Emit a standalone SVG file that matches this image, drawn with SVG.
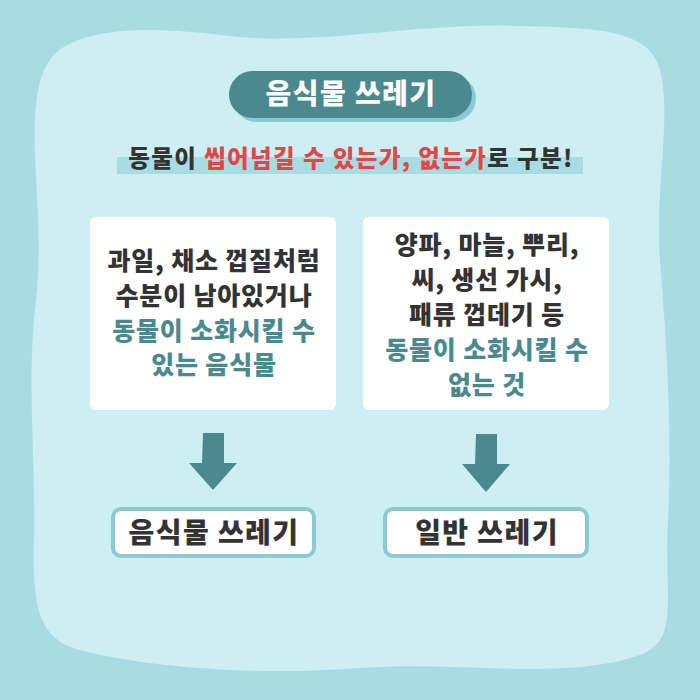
<svg xmlns="http://www.w3.org/2000/svg" width="700" height="700" viewBox="0 0 700 700">
<defs>
<style>
text{font-family:"Noto Sans CJK KR","Noto Sans",sans-serif;font-weight:900;text-anchor:middle}
.dk{fill:#333333}
.tl{fill:#4a8a8f}
.rd{fill:#e04848}
.wh{fill:#ffffff}
.box{fill:#ffffff}
.res{fill:#ffffff;stroke:#8ccad3;stroke-width:4}
.arr{fill:#4a8a8f}
.bt{font-size:25px;letter-spacing:0.8px}
.big{font-size:28px;letter-spacing:1.4px}
</style>
</defs>
<rect width="700" height="700" fill="#a8dce2"/>
<path d="M62,48 C100,25 160,28 230,36 C320,46 420,22 520,26 C600,28 650,30 660,70 C672,120 655,180 660,260 C668,360 672,440 668,520 C664,600 680,640 640,655 C560,682 460,660 360,668 C260,676 150,668 80,650 C40,640 32,610 34,540 C36,460 26,380 36,300 C44,220 30,150 36,105 C40,72 48,58 62,48 Z" fill="#cdeff3"/>
<g id="title">
<rect x="233" y="75" width="243" height="47" rx="23.5" fill="#8ccad3"/>
<rect x="229" y="71" width="243" height="47" rx="23.5" fill="#4a8a8f"/>
<text x="351" y="104" class="big wh">음식물 쓰레기</text>
</g>
<g id="subtitle">
<rect x="117" y="157" width="466" height="17" fill="#a8dce2"/>
<text x="351" y="167" font-size="23.5" letter-spacing="1.4"><tspan class="dk">동물이 </tspan><tspan class="rd">씹어넘길 수 있는가, 없는가</tspan><tspan class="dk">로 구분!</tspan></text>
</g>
<g id="left-box">
<rect x="90" y="217" width="246" height="193" rx="6" class="box"/>
<text x="214" y="270" class="bt dk">과일, 채소 껍질처럼</text>
<text x="214" y="305" class="bt dk">수분이 남아있거나</text>
<text x="214" y="340" class="bt tl">동물이 소화시킬 수</text>
<text x="214" y="374" class="bt tl">있는 음식물</text>
</g>
<g id="right-box">
<rect x="363" y="217" width="246" height="193" rx="6" class="box"/>
<text x="487" y="254" class="bt dk">양파, 마늘, 뿌리,</text>
<text x="487" y="289" class="bt dk">씨, 생선 가시,</text>
<text x="487" y="324" class="bt dk">패류 껍데기 등</text>
<text x="487" y="359" class="bt tl">동물이 소화시킬 수</text>
<text x="487" y="394" class="bt tl">없는 것</text>
</g>
<g id="connectors">
<path class="arr" d="M203,433 H224 V463 H237 L213,490 L189,463 H202 Z"/>
<path class="arr" d="M476,434 H497 V464 H510 L486,492 L462,464 H475 Z"/>
</g>
<g id="result-left">
<rect x="113" y="509" width="201" height="47" rx="8" class="res"/>
<text x="214" y="543" class="big dk">음식물 쓰레기</text>
</g>
<g id="result-right">
<rect x="385" y="509" width="202" height="47" rx="8" class="res"/>
<text x="487" y="543" class="big dk">일반 쓰레기</text>
</g>
</svg>
